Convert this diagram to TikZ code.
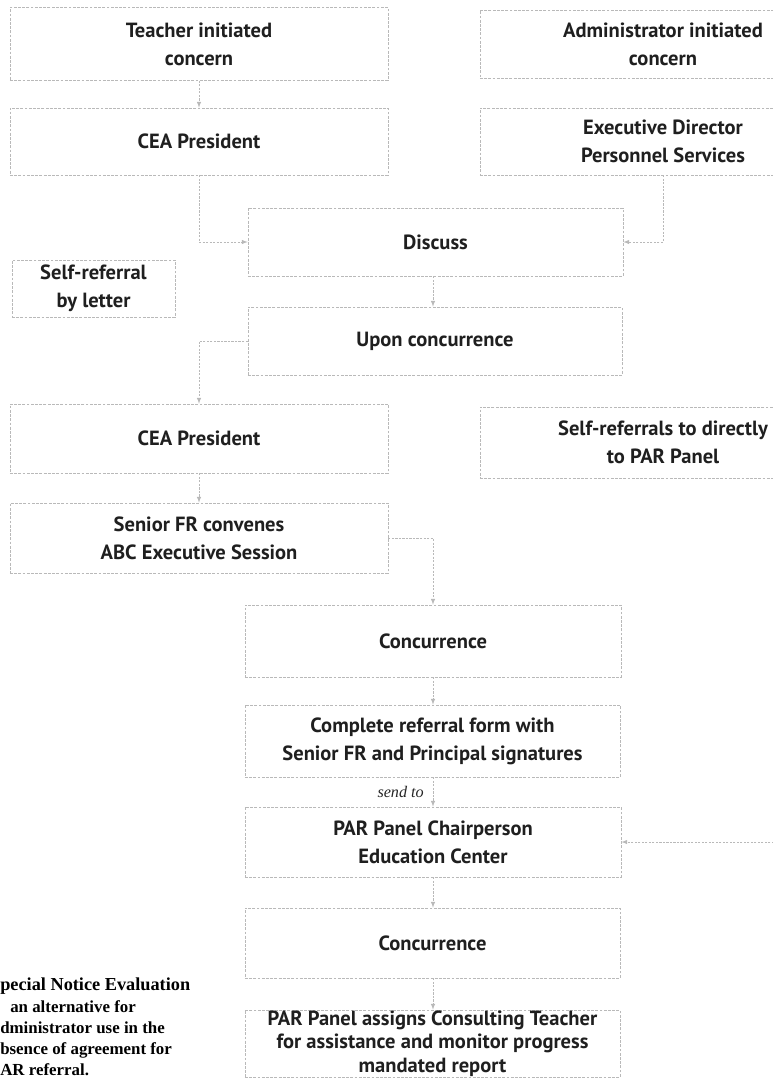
\documentclass[tikz,border=0pt]{standalone}
\usepackage{fontspec}
\newfontfamily\boxfont{PT Sans}
\newfontfamily\notefont{Liberation Serif}

\tikzset{
  box/.style={draw=gray!55, dash pattern=on 2pt off 1pt, line width=0.45pt, align=center,
    inner sep=0pt, text=black!88, font=\boxfont\bfseries\fontsize{14.6}{20}\selectfont},
  conn/.style={draw=gray!55, dash pattern=on 1.5pt off 1pt, line width=0.45pt, -latex},
}

\begin{document}
\begin{tikzpicture}[x=0.025cm, y=-0.025cm]
\useasboundingbox (0,0) rectangle (773,1078);
\clip (0,0) rectangle (773,1078);

% left column
\node[box, minimum width=9.45cm, minimum height=1.825cm] (teacher) at (199,44) {Teacher initiated\\concern};
\node[box, minimum width=9.45cm, minimum height=1.675cm] (cea) at (199,141.5) {CEA President};
\node[box, minimum width=4.075cm, minimum height=1.425cm] (letter) at (93.5,288.5) {Self-referral\\by letter};
\node[box, minimum width=9.45cm, minimum height=1.725cm] (ceatwo) at (199,438.5) {CEA President};
\node[box, minimum width=9.45cm, minimum height=1.75cm] (senior) at (199,538) {Senior FR convenes\\ABC Executive Session};

% right column
\node[box, minimum width=9.15cm, minimum height=1.7cm] (admin) at (663,44) {Administrator initiated\\concern};
\node[box, minimum width=9.15cm, minimum height=1.675cm] (execdir) at (663,141.5) {Executive Director\\Personnel Services};
\node[box, minimum width=9.15cm, minimum height=1.775cm] (direct) at (663,442.5) {Self-referrals to directly\\to PAR Panel};

% middle column
\node[box, minimum width=9.375cm, minimum height=1.7cm] (discuss) at (435.5,242) {Discuss};
\node[box, minimum width=9.35cm, minimum height=1.7cm] (upon) at (435,341) {Upon concurrence};
\node[box, minimum width=9.4cm, minimum height=1.8cm] (concone) at (433,641) {Concurrence};
\node[box, minimum width=9.375cm, minimum height=1.8cm] (form) at (432.5,741) {Complete referral form with\\Senior FR and Principal signatures};
\node[box, minimum width=9.4cm, minimum height=1.75cm] (chair) at (433,842) {PAR Panel Chairperson\\Education Center};
\node[box, minimum width=9.375cm, minimum height=1.75cm] (conctwo) at (432.5,943) {Concurrence};
\node[box, minimum width=9.375cm, minimum height=1.675cm, font=\boxfont\bfseries\fontsize{14.6}{16.8}\selectfont] (assign) at (432.5,1043.5)
  {PAR Panel assigns Consulting Teacher\\for assistance and monitor progress\\mandated report};

\node[anchor=north west, inner sep=0pt, align=left, text=black, font=\notefont\bfseries\fontsize{12}{15}\selectfont] (special) at (0,978)
  {{\fontsize{13}{15}\selectfont pecial Notice Evaluation}\\\hspace{0.25cm}an alternative for\\dministrator use in the\\bsence of agreement for\\AR referral.};

\coordinate (midx) at (433,0);
\coordinate (offright) at (790,842);

\draw[conn] (teacher) -- (cea);
\draw[conn] (cea.south) |- (discuss.west);
\draw[conn] (execdir.south) |- (discuss.east);
\draw[conn] (discuss.south -| midx) -- (upon.north -| midx);
\draw[conn] (upon.west) -| (ceatwo.north);
\draw[conn] (ceatwo) -- (senior);
\draw[conn] (senior.east) -| (concone.north -| midx);
\draw[conn] (concone.south -| midx) -- (form.north -| midx);
\draw[conn] (form.south -| midx) -- node[left=3pt, font=\notefont\itshape\fontsize{11.5}{13}\selectfont, text=black!85] {send to} (chair.north -| midx);
\draw[conn] (direct.south -| offright) |- (chair.east);
\draw[conn] (chair.south -| midx) -- (conctwo.north -| midx);
\draw[conn] (conctwo.south -| midx) -- (assign.north -| midx);
\end{tikzpicture}
\end{document}
